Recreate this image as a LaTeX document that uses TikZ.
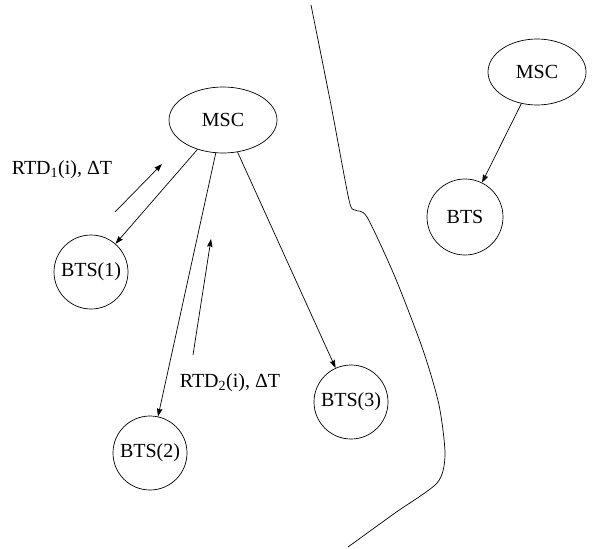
\documentclass[tikz,border=0pt]{standalone}
\usepackage{fontspec}
\setmainfont{Liberation Serif}
\usetikzlibrary{positioning, calc}
\usetikzlibrary{arrows.meta}
\usetikzlibrary{shapes,arrows}

\begin{document}
\begin{tikzpicture}[x=1pt,y=-1pt,shorten >=0pt,draw=black!100,line width=0.7pt,font=\rmfamily\fontsize{20}{23}\selectfont]
	\useasboundingbox (0,0) rectangle (598,549);
	\def \mscrow{120}
	\def \btsrow{272}
	%\def \farrow{217}
	\tikzstyle{msc-node}=[draw,ellipse,inner sep=0pt,minimum width=108pt,minimum height=66pt]
	\tikzstyle{bts-node}=[draw,circle,inner sep=0pt,minimum size=74pt]
	\tikzstyle{annot}=[inner sep=0pt]
	\tikzstyle{msg}=[-{Stealth[length=8pt,width=5.5pt,inset=1pt]}]
	% labels
	\node[annot] (rtdone) at (62,170) {RTD\textsubscript{1}(i), ΔT};
	\node[annot] (rtdtwo) at (230,383) {RTD\textsubscript{2}(i), ΔT};
	
	% home network
	\node[msc-node] (msc0) at (223,\mscrow) {MSC};
	\node[bts-node] (bts1) at (91,\btsrow) {BTS(1)};
	\node[bts-node] (bts2) at (150,453) {BTS(2)};
	\node[bts-node] (bts3) at (351,402) {BTS(3)};
	
	% other network
	\node[msc-node,minimum width=98pt] (msc1) at (537,72) {MSC};
	\node[bts-node,minimum size=76pt] (bts) at (465,217) {BTS};
	
	% message arrows
	\coordinate (m1a) at (115,212);
	\coordinate (m1b) at (162,164);
	\coordinate (m2a) at (193,355);
	\coordinate (m2b) at (211,239);
	
	\path[msg]
		(msc0)	edge	node	{}	(bts1)
		(msc0)	edge	node	{}	(bts2)
		(msc0)	edge	node	{}	(bts3)
		%
		(msc1)	edge	node	{}	(bts)
		%
		(m1a)	edge	node	{}	(m1b)
		(m2a)	edge	node	{}	(m2b);
	
	% border between the networks
	\draw plot[smooth,tension=0.45] coordinates {(311,5) (331,105) (349,200) (355,210) (367,217) (395,277) (423,350) (439,405) (445,455) (437,483) (395,513) (348,547)};
	
\end{tikzpicture}
\end{document}
